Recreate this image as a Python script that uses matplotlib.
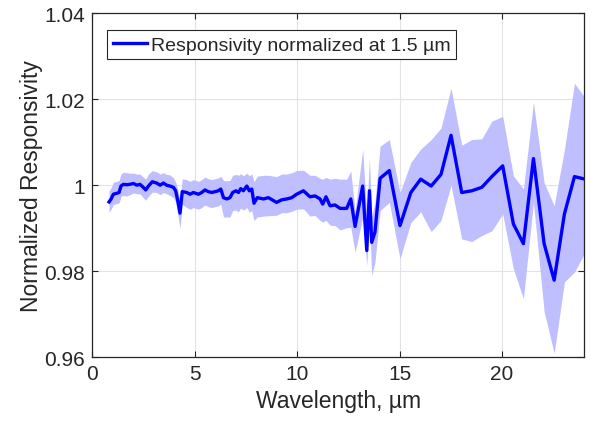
import numpy as np
import matplotlib
matplotlib.use('Agg')
import matplotlib.pyplot as plt
from matplotlib.ticker import FormatStrFormatter

# wavelength (um), normalized responsivity, band half-widths above / below
wavelength = [0.83, 0.93, 1.04, 1.20, 1.32, 1.41, 1.53, 1.69, 1.85, 2.02,
              2.18, 2.34, 2.50, 2.62, 2.75, 2.94, 3.15, 3.32, 3.48, 3.64,
              3.80, 3.97, 4.08, 4.18, 4.29, 4.40, 4.62, 4.78, 4.94, 5.19,
              5.35, 5.51, 5.67, 5.84, 6.00, 6.16, 6.28, 6.41, 6.57, 6.73,
              6.86, 7.02, 7.14, 7.25, 7.38, 7.55, 7.67, 7.79, 7.90, 8.06,
              8.36, 8.60, 9.00, 9.25, 9.50, 9.74, 9.98, 10.31, 10.63, 10.88,
              11.12, 11.25, 11.41, 11.61, 11.85, 12.10, 12.42, 12.62, 12.83, 13.20,
              13.40, 13.53, 13.64, 13.80, 14.05, 14.50, 15.02, 15.55, 16.03, 16.54,
              17.02, 17.51, 18.03, 18.52, 19.01, 19.50, 20.03, 20.55, 21.04, 21.53,
              22.05, 22.54, 23.04, 23.53, 24.05]

responsivity = [0.9961, 0.9968, 0.9979, 0.9981, 0.9983, 0.9998, 1.0002, 1.0001, 1.0002, 1.0004,
                1.0000, 1.0002, 0.9995, 0.9989, 0.9998, 1.0008, 1.0005, 1.0000, 1.0005, 1.0000,
                0.9998, 0.9995, 0.9987, 0.9964, 0.9935, 0.9985, 0.9983, 0.9979, 0.9983, 0.9979,
                0.9983, 0.9989, 0.9985, 0.9983, 0.9985, 0.9987, 0.9991, 0.9971, 0.9968, 0.9971,
                0.9983, 0.9987, 0.9983, 0.9992, 0.9987, 0.9998, 0.9987, 0.9991, 0.9958, 0.9971,
                0.9968, 0.9971, 0.9960, 0.9966, 0.9968, 0.9971, 0.9979, 0.9987, 0.9973, 0.9975,
                0.9968, 0.9956, 0.9973, 0.9952, 0.9954, 0.9946, 0.9946, 0.9968, 0.9904, 0.9998,
                0.9848, 0.9987, 0.9867, 0.9891, 1.0016, 1.0034, 0.9906, 0.9983, 1.0014, 0.9998,
                1.0025, 1.0116, 0.9983, 0.9987, 0.9995, 1.0020, 1.0045, 0.9910, 0.9864, 1.0062,
                0.9864, 0.9779, 0.9933, 1.0020, 1.0014]

err_up = [0.0026, 0.0026, 0.0028, 0.0028, 0.0028, 0.0028, 0.0028, 0.0028, 0.0026, 0.0024,
          0.0026, 0.0024, 0.0024, 0.0025, 0.0028, 0.0026, 0.0026, 0.0026, 0.0024, 0.0025,
          0.0026, 0.0022, 0.0020, 0.0026, 0.0030, 0.0030, 0.0030, 0.0030, 0.0030, 0.0030,
          0.0030, 0.0030, 0.0030, 0.0030, 0.0030, 0.0030, 0.0030, 0.0040, 0.0042, 0.0040,
          0.0040, 0.0038, 0.0040, 0.0035, 0.0035, 0.0030, 0.0035, 0.0035, 0.0050, 0.0050,
          0.0055, 0.0052, 0.0060, 0.0060, 0.0058, 0.0058, 0.0055, 0.0048, 0.0050, 0.0048,
          0.0048, 0.0058, 0.0045, 0.0062, 0.0062, 0.0068, 0.0068, 0.0065, 0.0035, 0.0085,
          0.0080, 0.0078, 0.0060, 0.0070, 0.0075, 0.0072, 0.0077, 0.0070, 0.0070, 0.0108,
          0.0108, 0.0110, 0.0110, 0.0119, 0.0113, 0.0129, 0.0115, 0.0112, 0.0127, 0.0131,
          0.0142, 0.0173, 0.0150, 0.0217, 0.0189]

err_dn = [0.0024, 0.0024, 0.0024, 0.0024, 0.0024, 0.0024, 0.0026, 0.0026, 0.0024, 0.0022,
          0.0020, 0.0022, 0.0024, 0.0024, 0.0024, 0.0024, 0.0022, 0.0022, 0.0022, 0.0020,
          0.0022, 0.0024, 0.0026, 0.0032, 0.0036, 0.0030, 0.0035, 0.0035, 0.0035, 0.0035,
          0.0035, 0.0035, 0.0035, 0.0035, 0.0035, 0.0035, 0.0035, 0.0045, 0.0042, 0.0045,
          0.0042, 0.0045, 0.0045, 0.0045, 0.0045, 0.0050, 0.0050, 0.0050, 0.0040, 0.0045,
          0.0040, 0.0042, 0.0030, 0.0030, 0.0032, 0.0032, 0.0035, 0.0042, 0.0045, 0.0045,
          0.0050, 0.0042, 0.0055, 0.0045, 0.0048, 0.0050, 0.0045, 0.0066, 0.0060, 0.0073,
          0.0035, 0.0060, 0.0077, 0.0070, 0.0075, 0.0074, 0.0077, 0.0070, 0.0076, 0.0106,
          0.0107, 0.0116, 0.0108, 0.0118, 0.0112, 0.0126, 0.0112, 0.0104, 0.0128, 0.0102,
          0.0158, 0.0170, 0.0158, 0.0222, 0.0170]

x_ticks = [0, 5, 10, 15, 20]
y_ticks = [0.96, 0.98, 1.00, 1.02, 1.04]

plt.rcParams['font.family'] = ['Liberation Sans', 'DejaVu Sans']
dark = '#262626'

wl = np.array(wavelength)
r = np.array(responsivity)
upper = r + np.array(err_up)
lower = r - np.array(err_dn)

fig = plt.figure(figsize=(5.9, 4.31), dpi=100)
ax = fig.add_axes([0.156, 0.169, 0.834, 0.798])

ax.fill_between(wl, lower, upper, color='#bfbfff', linewidth=0, zorder=1)
ax.plot(wl, r, color='#0000ff', linewidth=2.4, zorder=2,
        label='Responsivity normalized at 1.5 µm')

ax.set_xlim(0, 24)
ax.set_ylim(0.96, 1.04)
ax.set_xticks(x_ticks)
ax.set_yticks(y_ticks)
ax.yaxis.set_major_formatter(FormatStrFormatter('%g'))
ax.grid(True, color='#e3e3e3', linewidth=0.8)
ax.set_axisbelow(True)
ax.tick_params(direction='in', top=True, right=True, length=4, width=0.8,
               labelsize=15, colors=dark, pad=5)
for s in ax.spines.values():
    s.set_color(dark)
    s.set_linewidth(0.9)

ax.set_xlabel('Wavelength, µm', fontsize=16.5, color=dark, labelpad=4)
ax.set_ylabel('Normalized Responsivity', fontsize=16.5, color=dark, labelpad=1)

leg = ax.legend(loc='upper left', bbox_to_anchor=(0.03, 0.951), borderaxespad=0,
                fontsize=14, frameon=True, fancybox=False, framealpha=1,
                edgecolor=dark, handlelength=1.75, handletextpad=0.2,
                borderpad=0.3)
leg.get_frame().set_linewidth(0.8)
for t in leg.get_texts():
    t.set_color(dark)

fig.savefig('out.png', dpi=100)
